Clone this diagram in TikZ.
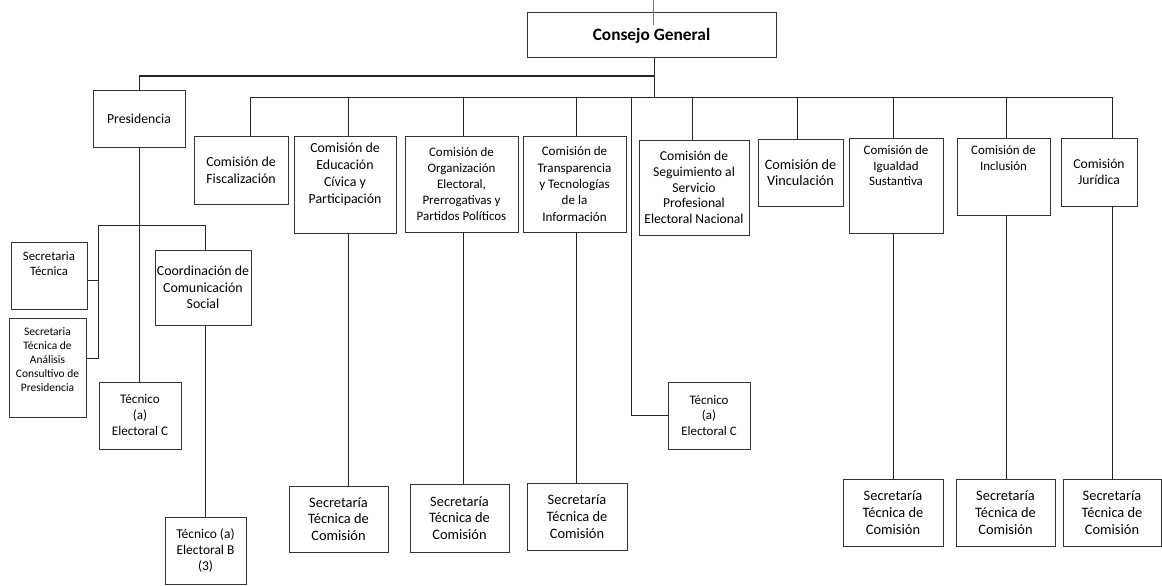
\documentclass[tikz,border=0pt]{standalone}
\usepackage{fontspec}
\setmainfont{Carlito}
\newlength{\px}
\setlength{\px}{0.75pt}
% texto de caja: [posicion]{ancho}{alto}{texto}, medidas en px
\newcommand{\cajatexto}[4][c]{\parbox[c][#3\px][#1]{#2\px}{\centering #4\par}}

\begin{document}
\begin{tikzpicture}[x=0.75pt,y=-0.75pt,
  caja/.style={draw=black!80,line width=0.75pt,inner sep=0pt},
  letra/.style 2 args={font=\fontsize{#1}{#2}\selectfont},
  linea/.style={draw=black!85,line width=0.75pt}]
\useasboundingbox (0,0) rectangle (1162,585);
% consejo y presidencia
\node[caja,font=\bfseries\fontsize{13}{15}\selectfont] (consejo) at (651.5,35.5) {\cajatexto{249}{45}{Consejo General}};
\node[caja,letra={10.3}{12.5}] (presid) at (139,118.5) {\cajatexto{92}{57}{Presidencia}};
% comisiones
\node[caja,letra={10.4}{13}] (fisc) at (241,170) {\cajatexto{94}{68}{Comisión de\\Fiscalización}};
\node[caja,letra={10.4}{12.75}] (educ) at (345,184.5) {\cajatexto[t]{102}{97}{\vspace*{7\px}Comisión de\\Educación\\Cívica y\\Participación}};
\node[caja,letra={9.7}{11.85}] (org) at (461.5,184) {\cajatexto{113}{96}{Comisión de\\Organización\\Electoral,\\Prerrogativas y\\Partidos Políticos}};
\node[caja,letra={9.8}{12.2}] (transp) at (574.5,184) {\cajatexto{103}{96}{Comisión de\\Transparencia\\y Tecnologías\\de la\\Información}};
\node[caja,letra={10.2}{11.8}] (segui) at (694,187.5) {\cajatexto{110}{95}{Comisión de\\Seguimiento al\\Servicio\\Profesional\\Electoral Nacional}};
\node[caja,letra={10.7}{11.8}] (vincul) at (800.5,172.5) {\cajatexto{85}{67}{Comisión de\\Vinculación}};
\node[caja,letra={9.7}{11.6}] (igual) at (896,185.5) {\cajatexto[t]{94}{95}{\vspace*{8\px}Comisión de\\Igualdad\\Sustantiva}};
\node[caja,letra={9.7}{11.6}] (inclu) at (1003.5,176.5) {\cajatexto[t]{93}{77}{\vspace*{8\px}Comisión de\\Inclusión}};
\node[caja,letra={10.2}{11.8}] (jurid) at (1099,172) {\cajatexto{76}{68}{Comisión\\Jurídica}};
% secretarias de comision
\node[caja,letra={10.8}{12.5}] (sEduc) at (338.5,519) {\cajatexto{99}{66}{Secretaría\\Técnica de\\Comisión}};
\node[caja,letra={10.8}{12.5}] (sOrg) at (459.5,518) {\cajatexto{99}{68}{Secretaría\\Técnica de\\Comisión}};
\node[caja,letra={10.8}{12.5}] (sTransp) at (577,516.5) {\cajatexto{100}{67}{Secretaría\\Técnica de\\Comisión}};
\node[caja,letra={10.8}{12.5}] (sIgual) at (893,512.5) {\cajatexto{100}{67}{Secretaría\\Técnica de\\Comisión}};
\node[caja,letra={10.8}{12.5}] (sInclu) at (1005.5,512.5) {\cajatexto{99}{67}{Secretaría\\Técnica de\\Comisión}};
\node[caja,letra={10.8}{12.5}] (sJurid) at (1112,512.5) {\cajatexto{98}{67}{Secretaría\\Técnica de\\Comisión}};
\node[caja,letra={9.7}{11.85}] (tecC2) at (709,415.5) {\cajatexto{82}{67}{Técnico\\(a)\\Electoral C}};
% area de presidencia
\node[caja,letra={9.6}{11.25}] (secT) at (49,275.5) {\cajatexto[t]{76}{67}{\vspace*{10\px}Secretaria\\Técnica}};
\node[caja,letra={8.6}{10.5}] (secA) at (47.5,367.5) {\cajatexto[t]{77}{99}{\vspace*{10\px}Secretaria\\Técnica de\\Análisis\\Consultivo de\\Presidencia}};
\node[caja,letra={10.4}{12.5}] (coord) at (203,287.5) {\cajatexto{96}{75}{Coordinación de\\Comunicación\\Social}};
\node[caja,letra={9.85}{12}] (tecC1) at (140,415.5) {\cajatexto{82}{67}{Técnico\\(a)\\Electoral C}};
\node[caja,letra={10.1}{12.2}] (tecB) at (205.5,550.5) {\cajatexto{81}{67}{Técnico (a)\\Electoral B\\(3)}};
% puntos de los buses
\coordinate (cgtop) at (653,0);
\coordinate (b0) at (139,76);
\coordinate (cg) at (654,97);
\coordinate (c1) at (250,97);
\coordinate (c2) at (348,97);
\coordinate (c3) at (463,97);
\coordinate (c4) at (576,97);
\coordinate (c5) at (631,97);
\coordinate (c6) at (692,97);
\coordinate (c7) at (797,97);
\coordinate (c8) at (893,97);
\coordinate (c9) at (1006,97);
\coordinate (c10) at (1112,97);
\coordinate (d0) at (98,225);
\coordinate (d1) at (205,225);
% lineas
\draw[draw=black!55,line width=0.75pt] (cgtop) -- ++(0,25);
\draw[linea] (cg |- consejo.south) -- (cg);
\draw[linea] (presid) -- (b0) -- (b0 -| cg);
\draw[linea] (c1) -- (c10);
\foreach \c/\n in {c1/fisc,c2/educ,c3/org,c4/transp,c6/segui,c7/vincul,c8/igual,c9/inclu,c10/jurid}
  \draw[linea] (\c) -- (\c |- \n.north);
\foreach \c/\n/\s in {c2/educ/sEduc,c3/org/sOrg,c4/transp/sTransp,c8/igual/sIgual,c9/inclu/sInclu,c10/jurid/sJurid}
  \draw[linea] (\c |- \n.south) -- (\c |- \s.north);
\draw[linea] (c5) |- (tecC2.west);
\draw[linea] (presid.south) -- (presid.south |- tecC1.north);
\draw[linea] ([yshift=-4pt]secT.east) -| (d0) -- (d1) -- (d1 |- coord.north);
\draw[linea] (d0) |- ([yshift=7pt]secA.east);
\draw[linea] (d1 |- coord.south) -- (d1 |- tecB.north);
\end{tikzpicture}
\end{document}
